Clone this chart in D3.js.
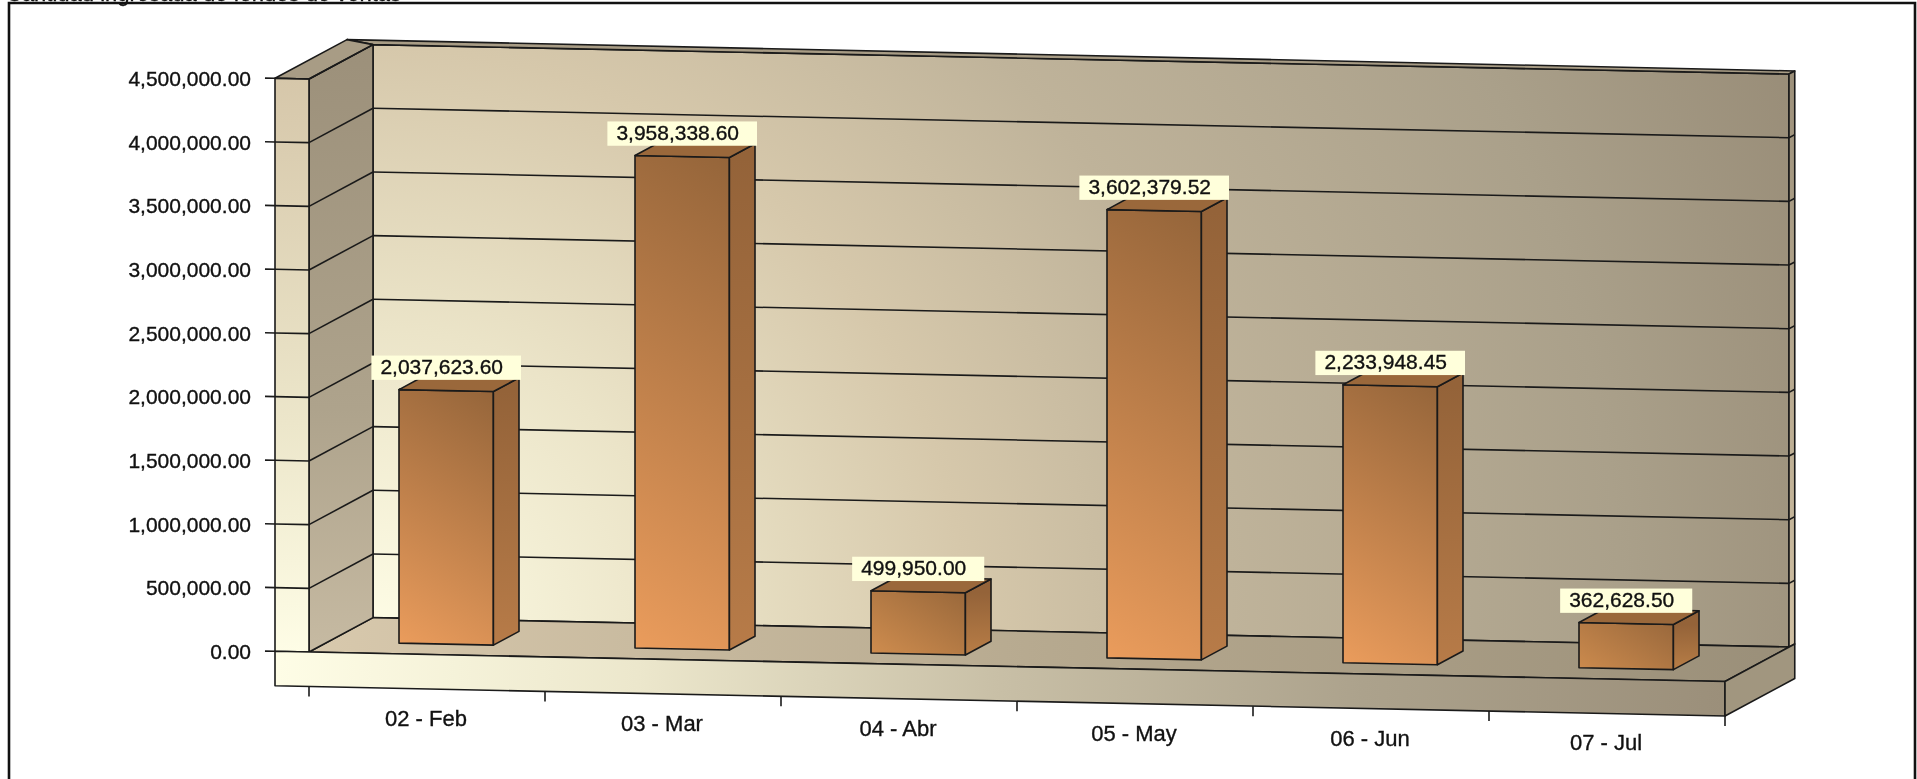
<!DOCTYPE html>
<html>
<head>
<meta charset="utf-8">
<style>
  html, body { margin: 0; padding: 0; background: #fff; overflow: hidden; }
  svg { display: block; filter: blur(0.4px); }
  text { font-family: "Liberation Sans", Arial, sans-serif; fill: #111; stroke: #111; stroke-width: 0.35px; }
</style>
<script src="https://d3js.org/d3.v7.min.js"></script>
</head>
<body>
<script>
const categories = ["02 - Feb", "03 - Mar", "04 - Abr", "05 - May", "06 - Jun", "07 - Jul"];
const values = [2037623.60, 3958338.60, 499950.00, 3602379.52, 2233948.45, 362628.50];
const yTicks = [0, 500000, 1000000, 1500000, 2000000, 2500000, 3000000, 3500000, 4000000, 4500000];
// this line is cut off by the top of the page in the original and cannot be read,
// these words only stand in for it, just their lower edge shows
const cutTitle = "Cantidad ingresada de fondos de ventas";

const width = 1917, height = 779;
const fmt = d3.format(",.2f");

const svg = d3.select("body").append("svg").attr("width", width).attr("height", height);
const defs = svg.append("defs");

// x runs along the front edge, y is the value, the depth is skewed up and to the right
const x = d3.scaleBand().domain(categories).range([309, 1725]);
const y = d3.scaleLinear().domain([0, 4500000]).range([652, 79]);
const barH = d3.scaleLinear().domain([0, 4500000]).range([0, 560]);
const slope = 0.0208, depthX = 64, depthY = 34.4;

// px: distance in px along the front edge, v: value, d: depth (0 front, 1 back wall)
function P(px, v, d) {
  return [309 + px + d * depthX, y(v) + px * slope - d * depthY];
}
const W = 1416;
const poly = pts => "M" + pts.map(p => p.join(",")).join("L") + "Z";

function linear(id, x1, y1, x2, y2, stops) {
  const g = defs.append("linearGradient").attr("id", id)
    .attr("gradientUnits", "userSpaceOnUse")
    .attr("x1", x1).attr("y1", y1).attr("x2", x2).attr("y2", y2);
  stops.forEach(s => g.append("stop").attr("offset", s[0]).attr("stop-color", s[1]));
}

const wall = defs.append("radialGradient").attr("id", "wall")
  .attr("gradientUnits", "userSpaceOnUse")
  .attr("cx", 373).attr("cy", 640).attr("r", 1560);
[[0, "#fefde6"], [0.2, "#ebe4c8"], [0.38, "#d6c8ab"], [0.55, "#bfb39a"], [0.8, "#aaa08a"], [1, "#978b76"]]
  .forEach(s => wall.append("stop").attr("offset", s[0]).attr("stop-color", s[1]));

linear("floor", 309, 0, 1790, 0, [[0, "#d8c9ad"], [0.5, "#b6a98f"], [1, "#9a8f79"]]);
linear("slab", 276, 0, 1725, 0, [[0, "#fefde6"], [0.25, "#ece7cc"], [0.5, "#c8bfa6"], [0.75, "#aca28c"], [1, "#9b8f7a"]]);
linear("panel", 0, 79, 0, 652, [[0, "#d6c7aa"], [0.6, "#ece6ca"], [1, "#fefde6"]]);
linear("side", 0, 45, 0, 652, [[0, "#9c907a"], [0.6, "#aea38c"], [1, "#c6baa2"]]);
linear("edge", 0, 70, 0, 645, [[0, "#9c907a"], [1, "#cfbfa2"]]);

const ink = "#1a1a1a";
const layer = svg.append("g");

function face(pts, fill) {
  return layer.append("path").attr("d", poly(pts)).attr("fill", fill)
    .attr("stroke", ink).attr("stroke-width", 1.6).attr("stroke-linejoin", "round");
}
function seg(a, b, w) {
  layer.append("line").attr("x1", a[0]).attr("y1", a[1]).attr("x2", b[0]).attr("y2", b[1])
    .attr("stroke", ink).attr("stroke-width", w || 1.6);
}

const vMax = yTicks[yTicks.length - 1];
const outer = 1.09, lipOuter = 1.125, lip = -34;

// back wall, floor, left wall, thin right edge, base
face([P(0, vMax, 1), P(W, vMax, 1), P(W, 0, 1), P(0, 0, 1)], "url(#wall)");
face([P(0, vMax, 1), P(lip, vMax, lipOuter), P(W, vMax, outer), P(W, vMax, 1)], "#a89c85");
face([P(W, vMax, 1), P(W, vMax, outer), P(W, 0, outer), P(W, 0, 1)], "url(#edge)");
face([P(0, 0, 0), P(0, 0, 1), P(W, 0, 1), P(W, 0, 0)], "url(#floor)");
face([P(0, vMax, 0), P(0, vMax, 1), P(0, 0, 1), P(0, 0, 0)], "url(#side)");
face([P(lip, vMax, 0), P(0, vMax, 0), P(0, vMax, 1), P(lip, vMax, lipOuter)], "#a89c85");
face([P(lip, vMax, 0), P(0, vMax, 0), P(0, 0, 0), P(lip, 0, 0)], "url(#panel)");

const slabV = y.invert(y(0) + 34.5);
face([P(lip, 0, 0), P(W, 0, 0), P(W, slabV, 0), P(lip, slabV, 0)], "url(#slab)");
face([P(W, 0, 0), P(W, 0, outer), P(W, slabV, outer), P(W, slabV, 0)], "#a1967f");

// grid lines on both walls and the small ticks
yTicks.forEach(t => {
  if (t > 0) {
    seg(P(0, t, 0), P(0, t, 1));
    if (t < vMax) {
      seg(P(0, t, 1), P(W, t, 1));
      seg(P(W, t, 1), P(W, t, outer));
    }
    seg(P(lip, t, 0), P(0, t, 0));
  }
  seg(P(lip - 10, t, 0), P(lip, t, 0));
  const a = P(lip - 10, t, 0);
  layer.append("text").attr("x", a[0] - 14).attr("y", a[1]).attr("dy", "0.38em")
    .attr("text-anchor", "end").attr("font-size", 21).text(fmt(t));
});

// category ticks and labels under the base
[...categories.map(c => x(c) - 309), W].forEach(px => {
  const a = P(px, slabV, 0);
  seg(a, [a[0], a[1] + 10]);
});
categories.forEach(c => {
  const px = x(c) - 309 + x.bandwidth() / 2;
  const a = P(px, slabV, 0);
  layer.append("text").attr("x", a[0] - 1).attr("y", a[1] + 37)
    .attr("text-anchor", "middle").attr("font-size", 22).text(c);
});

// bars sit in the middle of the band and take 0.3 to 0.7 of the depth
const barW = x.bandwidth() * 0.4;
const d0 = 0.3, d1 = 0.7;

function Q(px, h, d) {
  const p = P(px, 0, d);
  return [p[0], p[1] - h];
}

// the shading on a bar falls along this direction, mostly upward with some tilt
const nx = 0.54, ny = -0.84;

values.forEach((v, i) => {
  const left = x(categories[i]) - 309 + x.bandwidth() * 0.3;
  const h = barH(v);
  const tone = Math.min(1, h / 240);
  const light = d3.interpolateRgb("#c48649", "#ea9c5c")(tone);
  const dark = d3.interpolateRgb("#9a693c", "#95653a")(tone);
  const a = Q(left, 0, d0);
  const L = barW * nx + h * -ny;
  linear("front" + i, a[0], a[1], a[0] + nx * L, a[1] + ny * L, [[0, light], [1, dark]]);
  const s = Q(left + barW, 0, d0);
  const sideStart = d3.interpolateRgb(light, dark)(tone * 0.25 + 0.35);
  linear("right" + i, s[0], s[1], s[0], s[1] - h, [[0, sideStart], [1, "#946339"]]);

  face([Q(left, 0, d0), Q(left + barW, 0, d0), Q(left + barW, h, d0), Q(left, h, d0)], `url(#front${i})`);
  face([Q(left + barW, 0, d0), Q(left + barW, 0, d1), Q(left + barW, h, d1), Q(left + barW, h, d0)], `url(#right${i})`);
  face([Q(left, h, d0), Q(left + barW, h, d0), Q(left + barW, h, d1), Q(left, h, d1)], "#9a683b");

  // value label centred over the front of the bar, the text a bit left inside the box
  const t = Q(left + barW / 2, h, d0);
  const box = layer.append("rect").attr("fill", "#ffffdb");
  const label = layer.append("text").attr("font-size", 21).text(fmt(v));
  const tw = label.node().getComputedTextLength();
  const bw = tw + 27;
  box.attr("x", t[0] - bw / 2).attr("y", t[1] - 35).attr("width", bw).attr("height", 24.3);
  label.attr("x", t[0] - bw / 2 + 9).attr("y", t[1] - 16.5);
});

// line above the frame, cut by the page edge
svg.append("text").attr("x", 6).attr("y", 0.5).attr("font-size", 22).text(cutTitle);

// the frame around the chart
svg.append("path").attr("d", "M9,779V3H1915V779").attr("fill", "none")
  .attr("stroke", "#111").attr("stroke-width", 2.6);
</script>
</body>
</html>
